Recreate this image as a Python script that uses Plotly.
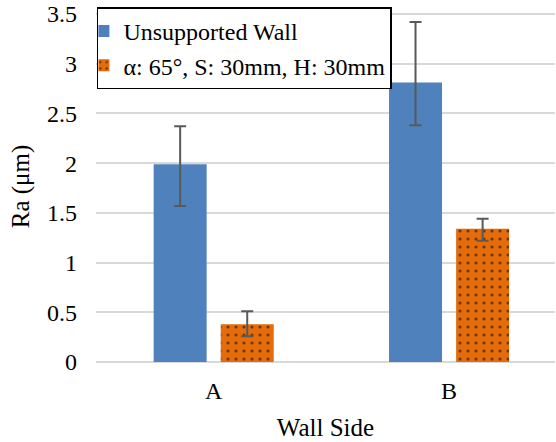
import plotly.graph_objects as go

categories = ["A", "B"]
series_names = ["Unsupported Wall", "α: 65°, S: 30mm, H: 30mm"]
unsupported = [1.99, 2.81]
unsupported_err_plus = [0.38, 0.61]
unsupported_err_minus = [0.42, 0.43]
supported = [0.38, 1.34]
supported_err_plus = [0.13, 0.10]
supported_err_minus = [0.12, 0.12]
y_ticks = [0, 0.5, 1, 1.5, 2, 2.5, 3, 3.5]
y_tick_labels = ["0", "0.5", "1", "1.5", "2", "2.5", "3", "3.5"]

FONT = "Liberation Serif, Times New Roman, serif"
ERR = dict(type="data", symmetric=False, color="#595959", thickness=2, width=6)

fig = go.Figure()
fig.add_trace(go.Bar(
    x=categories, y=unsupported, name=series_names[0],
    marker=dict(color="#4F81BD", line=dict(width=0)),
    error_y=dict(array=unsupported_err_plus, arrayminus=unsupported_err_minus, **ERR),
))
fig.add_trace(go.Bar(
    x=categories, y=supported, name=series_names[1],
    marker=dict(color="#E46C0A", line=dict(width=0),
                pattern=dict(shape=".", fgcolor="black", bgcolor="#E46C0A",
                             size=8, solidity=0.12, fillmode="overlay")),
    error_y=dict(array=supported_err_plus, arrayminus=supported_err_minus, **ERR),
))

fig.update_layout(
    width=556, height=442,
    margin=dict(l=96, r=1, t=9, b=80),
    paper_bgcolor="white", plot_bgcolor="white",
    barmode="group", bargap=0.43, bargroupgap=0.21,
    font=dict(family=FONT, size=24, color="black"),
    showlegend=True,
    legend=dict(x=0.002, y=1.01, xanchor="left", yanchor="top",
                bgcolor="white", bordercolor="black", borderwidth=1.5,
                font=dict(family=FONT, size=24, color="black"),
                tracegroupgap=0, itemwidth=30, indentation=-15),
    xaxis=dict(type="category", range=[-0.5, 1.45], showgrid=False,
               showline=False, ticks="", zeroline=False, ticklabelstandoff=12,
               title=dict(text="Wall Side", font=dict(family=FONT, size=25), standoff=15),
               tickfont=dict(family=FONT, size=24)),
    yaxis=dict(range=[0, 3.53], tickvals=y_ticks, ticktext=y_tick_labels,
               showgrid=True, gridcolor="#D9D9D9", gridwidth=1.5,
               zeroline=True, zerolinecolor="#D9D9D9", zerolinewidth=1.5,
               showline=False, ticks="", ticklabelstandoff=18,
               ticklabeloverflow="allow",
               title=dict(text="Ra (μm)", font=dict(family=FONT, size=25), standoff=10),
               tickfont=dict(family=FONT, size=24)),
)

fig.write_html("out.html")
